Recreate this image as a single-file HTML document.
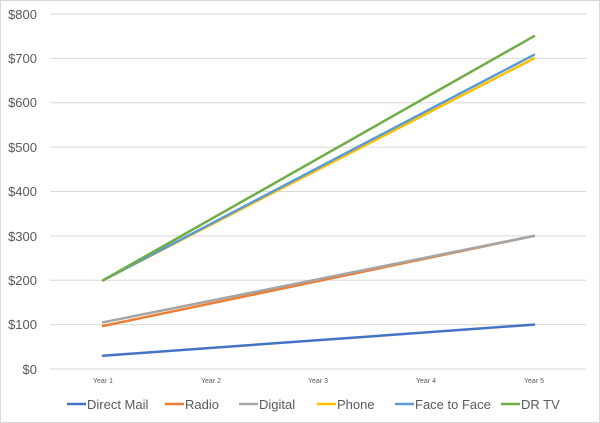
<!DOCTYPE html>
<html><head><style>
body{margin:0;background:#fff}
svg{display:block}
text{font-family:"Liberation Sans",sans-serif;fill:#595959}
</style></head><body>
<svg width="600" height="423" xmlns="http://www.w3.org/2000/svg">
<rect x="0.5" y="0.5" width="599" height="422" fill="#fff" stroke="#d9d9d9"/>
<g stroke="#d9d9d9" stroke-width="1">
<line x1="50" x2="586" y1="14" y2="14"/>
<line x1="50" x2="586" y1="58.4" y2="58.4"/>
<line x1="50" x2="586" y1="102.8" y2="102.8"/>
<line x1="50" x2="586" y1="147.1" y2="147.1"/>
<line x1="50" x2="586" y1="191.5" y2="191.5"/>
<line x1="50" x2="586" y1="235.9" y2="235.9"/>
<line x1="50" x2="586" y1="280.3" y2="280.3"/>
<line x1="50" x2="586" y1="324.6" y2="324.6"/>
<line x1="50" x2="586" y1="369" y2="369"/>
</g>
<g font-size="13" text-anchor="end">
<text x="37" y="19">$800</text>
<text x="37" y="63">$700</text>
<text x="37" y="107">$600</text>
<text x="37" y="152">$500</text>
<text x="37" y="196">$400</text>
<text x="37" y="241">$300</text>
<text x="37" y="285">$200</text>
<text x="37" y="329">$100</text>
<text x="37" y="374">$0</text>
</g>
<g font-size="7" text-anchor="middle">
<text x="103" y="383">Year 1</text>
<text x="211" y="383">Year 2</text>
<text x="318" y="383">Year 3</text>
<text x="426" y="383">Year 4</text>
<text x="534" y="383">Year 5</text>
</g>
<g stroke-width="2.5" fill="none" stroke-linecap="round">
<line x1="103" y1="355.7" x2="534" y2="324.6" stroke="#4472c4"/>
<line x1="103" y1="326" x2="534" y2="235.9" stroke="#ed7d31"/>
<line x1="103" y1="322.4" x2="534" y2="235.9" stroke="#a5a5a5"/>
<line x1="103" y1="280.3" x2="534" y2="58.4" stroke="#ffc000"/>
<line x1="103" y1="280.3" x2="534" y2="54.8" stroke="#5b9bd5"/>
<line x1="103" y1="280.3" x2="534" y2="36.2" stroke="#70ad47"/>
</g>
<g stroke-width="2.5">
<line x1="67" x2="86" y1="404" y2="404" stroke="#4472c4"/>
<line x1="165" x2="184" y1="404" y2="404" stroke="#ed7d31"/>
<line x1="239" x2="258" y1="404" y2="404" stroke="#a5a5a5"/>
<line x1="317" x2="336" y1="404" y2="404" stroke="#ffc000"/>
<line x1="395" x2="414" y1="404" y2="404" stroke="#5b9bd5"/>
<line x1="501" x2="520" y1="404" y2="404" stroke="#70ad47"/>
</g>
<g font-size="13">
<text x="87" y="409">Direct Mail</text>
<text x="185" y="409">Radio</text>
<text x="259" y="409">Digital</text>
<text x="337" y="409">Phone</text>
<text x="415" y="409">Face to Face</text>
<text x="521" y="409">DR TV</text>
</g>
</svg>
</body></html>
